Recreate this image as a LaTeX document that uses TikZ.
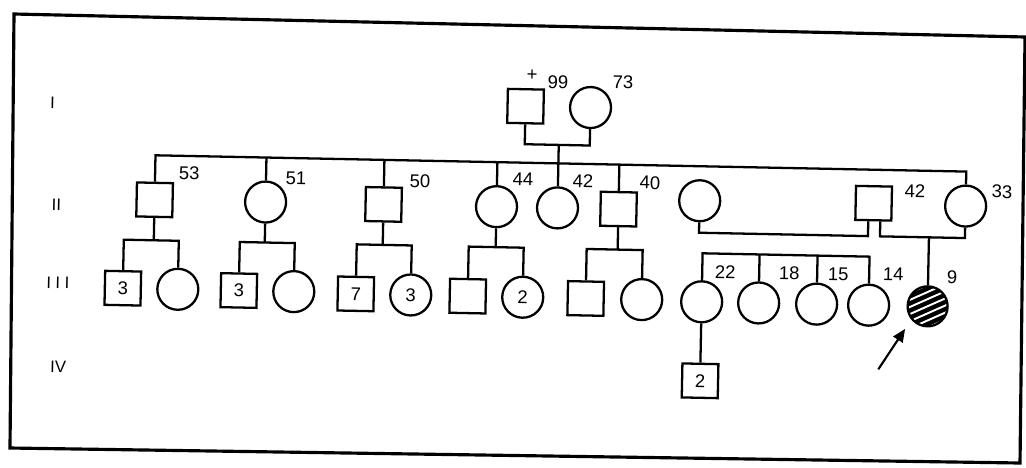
\documentclass[tikz,border=0pt]{standalone}
\usepackage{fontspec}
\setmainfont{Liberation Sans}
\usepackage{tikz}
\usetikzlibrary{arrows.meta}
\newcommand{\agefont}{\fontsize{10.5}{12}\selectfont}
\newcommand{\genfont}{\fontsize{9.5}{11}\selectfont}
\tikzset{
  malebox/.style={draw,line width=1.3pt,minimum width=0.72cm,minimum height=0.68cm,
    inner sep=0pt,font=\agefont},
  femalecirc/.style={draw,circle,line width=1.3pt,minimum size=0.82cm,inner sep=0pt,
    font=\agefont},
  affectedcirc/.style={femalecirc,minimum size=0.8cm,fill=black,path picture={
      \foreach \s in {-3,...,3} {
        \draw[white,line width=1.1pt]
          ([shift={({\s*6.5*0.423-30*0.906},{\s*6.5*0.906+30*0.423})}]path picture bounding box.center)
          -- ([shift={({\s*6.5*0.423+30*0.906},{\s*6.5*0.906-30*0.423})}]path picture bounding box.center);
      }}},
  agelabel/.style={font=\agefont,inner sep=0pt},
  genlabel/.style={font=\genfont,inner sep=0pt},
  pedline/.style={line width=1.3pt},
  framestyle/.style={line width=1.8pt,line join=miter},
  probandarrow/.style={-{Triangle[length=2.6mm,width=2.2mm]},line width=1.2pt}
}

\begin{document}
\begin{tikzpicture}[x=0.02cm,y=-0.02cm]
  \useasboundingbox (0,0) rectangle (1026,467);
  \draw[framestyle] (14,14) -- (1025,37) -- (1020,463) -- (10,448) -- cycle;
  \begin{scope}[rotate around={-1.15:(513,233)},transform shape]
  % generation numbers
  \node[genlabel] (gI) at (50,112) {I};
  \node[genlabel] (gII) at (56,214) {II};
  \node[genlabel] (gIII) at (59,292) {I\hspace{2.5pt}I\hspace{2.5pt}I};
  \node[genlabel] (gIV) at (61,376) {IV};
  % generation I
  \node[malebox] (I1) at (523,106) {};
  \node[femalecirc] (I2) at (588,106) {};
  \node[agelabel] (dI1) at (529,75) {+};
  \node[agelabel] (aI1) at (555,81) {99};
  \node[agelabel] (aI2) at (620,80) {73};
  \coordinate (mI) at (557,144);
  \coordinate (sII) at (0,162.5);
  \draw[pedline] (I1.south) |- (mI) -| (I2.south);
  \draw[pedline] (mI) -- (mI |- sII);
  % generation II
  \node[malebox] (II1) at (154,207) {};
  \node[femalecirc] (II2) at (265,207) {};
  \node[malebox] (II3) at (383,207) {};
  \node[femalecirc] (II4) at (496,207) {};
  \node[femalecirc] (II5) at (557,207) {};
  \node[malebox] (II6) at (618,207) {};
  \node[femalecirc] (II7) at (699,197) {};
  \node[malebox] (II8) at (873,196) {};
  \node[femalecirc] (II9) at (965,197) {};
  \node[agelabel] (aII1) at (188,180) {53};
  \node[agelabel] (aII2) at (295,183) {51};
  \node[agelabel] (aII3) at (419,183) {50};
  \node[agelabel] (aII4) at (522,179) {44};
  \node[agelabel] (aII5) at (582,180) {42};
  \node[agelabel] (aII6) at (649,180) {40};
  \node[agelabel] (aII8) at (914,183) {42};
  \node[agelabel] (aII9) at (1001,182) {33};
  \draw[pedline] (II1.north) -- (II1.north |- sII) -- (II9.north |- sII) -- (II9.north);
  \foreach \k in {II2,II3,II4,II5,II6}
    \draw[pedline] (\k.north) -- (\k.north |- sII);
  % marriages of II8
  \coordinate (mIIa) at (868,229);
  \coordinate (mIIb) at (880,229);
  \coordinate (dIII) at (929,229);
  \draw[pedline] (II7.south) |- (mIIa) -- (mIIa |- II8.south);
  \draw[pedline] (mIIb |- II8.south) -- (mIIb) -| (II9.south);
  % generation III
  \node[malebox] (III1) at (124,296) {3};
  \node[femalecirc] (III2) at (179,296) {};
  \node[malebox] (III3) at (240,296) {3};
  \node[femalecirc] (III4) at (295,296) {};
  \node[malebox] (III5) at (357,297) {7};
  \node[femalecirc] (III6) at (412,297) {3};
  \node[malebox] (III7) at (469,297) {};
  \node[femalecirc] (III8) at (524,297) {2};
  \node[malebox] (III9) at (587,297) {};
  \node[femalecirc] (III10) at (643,297) {};
  \node[femalecirc] (III11) at (703,298) {};
  \node[femalecirc] (III12) at (760,298) {};
  \node[femalecirc] (III13) at (818,298) {};
  \node[femalecirc] (III14) at (870,298) {};
  \node[affectedcirc] (III15) at (929,298) {};
  \node[agelabel] (aIII11) at (726,268) {22};
  \node[agelabel] (aIII12) at (790,268) {18};
  \node[agelabel] (aIII13) at (839,268) {15};
  \node[agelabel] (aIII14) at (894,267) {14};
  \node[agelabel] (aIII15) at (953,268) {9};
  \coordinate (sIII) at (0,247.5);
  \coordinate (sIIIb) at (0,249.5);
  \foreach \p/\a/\b in {II1/III1/III2,II2/III3/III4,II3/III5/III6,II4/III7/III8,II6/III9/III10} {
    \draw[pedline] (\p.south) -- (\p.south |- sIII);
    \draw[pedline] (\a.north) |- (\p.south |- sIII) -| (\b.north);
  }
  \draw[pedline] (III11.north) -- (III11.north |- sIIIb) -- (III14.north |- sIIIb) -- (III14.north);
  \foreach \k in {III12,III13}
    \draw[pedline] (\k.north) -- (\k.north |- sIIIb);
  \draw[pedline] (dIII) -- (III15.north);
  % generation IV
  \node[malebox] (IV1) at (703,377) {2};
  \draw[pedline] (III11.south) -- (IV1.north);
  % proband
  \coordinate (arrowtail) at (881,362);
  \coordinate (arrowtip) at (907,321);
  \draw[probandarrow] (arrowtail) -- (arrowtip);
  \end{scope}
\end{tikzpicture}
\end{document}
